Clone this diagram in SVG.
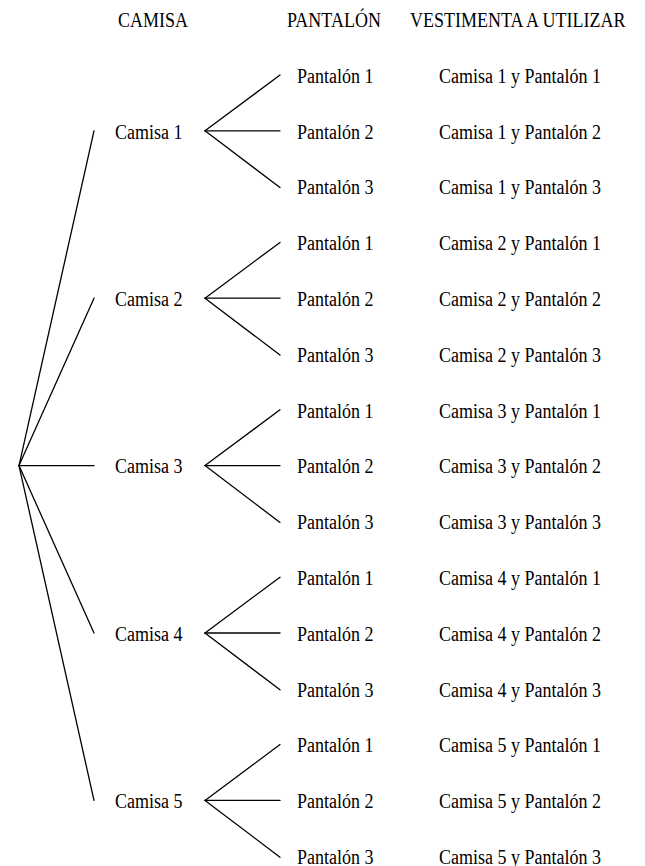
<svg xmlns="http://www.w3.org/2000/svg" width="645" height="866" viewBox="0 0 645 866">
<style>
text{font-family:"Liberation Serif","Times New Roman",serif;font-size:18px;fill:#000}
.c line{stroke:#000;stroke-width:1.3;stroke-linecap:round}
</style>
<rect width="645" height="866" fill="#fff"/>
<g id="headers">
<text transform="matrix(1 0 0 1.2 118 27)">CAMISA</text>
<text transform="matrix(1 0 0 1.2 287 27)">PANTALÓN</text>
<text transform="matrix(1 0 0 1.2 410 27)">VESTIMENTA A UTILIZAR</text>
</g>
<g id="connectors" class="c">
<line x1="19" y1="465.6" x2="94" y2="130.8"/>
<line x1="19" y1="465.6" x2="94" y2="298.2"/>
<line x1="19" y1="465.6" x2="94" y2="465.6"/>
<line x1="19" y1="465.6" x2="94" y2="633"/>
<line x1="19" y1="465.6" x2="94" y2="800.4"/>
<line x1="205" y1="130.8" x2="280" y2="75"/>
<line x1="205" y1="130.8" x2="280" y2="130.8"/>
<line x1="205" y1="130.8" x2="280" y2="187.6"/>
<line x1="205" y1="298.2" x2="280" y2="242.4"/>
<line x1="205" y1="298.2" x2="280" y2="298.2"/>
<line x1="205" y1="298.2" x2="280" y2="355"/>
<line x1="205" y1="465.6" x2="280" y2="409.8"/>
<line x1="205" y1="465.6" x2="280" y2="465.6"/>
<line x1="205" y1="465.6" x2="280" y2="522.4"/>
<line x1="205" y1="633" x2="280" y2="577.2"/>
<line x1="205" y1="633" x2="280" y2="633"/>
<line x1="205" y1="633" x2="280" y2="689.8"/>
<line x1="205" y1="800.4" x2="280" y2="744.6"/>
<line x1="205" y1="800.4" x2="280" y2="800.4"/>
<line x1="205" y1="800.4" x2="280" y2="857.2"/>
</g>
<g id="camisa1"><text transform="matrix(1 0 0 1.2 115 138.5)">Camisa 1</text></g>
<g id="camisa2"><text transform="matrix(1 0 0 1.2 115 305.9)">Camisa 2</text></g>
<g id="camisa3"><text transform="matrix(1 0 0 1.2 115 473.3)">Camisa 3</text></g>
<g id="camisa4"><text transform="matrix(1 0 0 1.2 115 640.7)">Camisa 4</text></g>
<g id="camisa5"><text transform="matrix(1 0 0 1.2 115 808.1)">Camisa 5</text></g>
<g id="c1p1"><text transform="matrix(1 0 0 1.2 297 82.7)">Pantalón 1</text><text transform="matrix(1 0 0 1.2 439 82.7)">Camisa 1 y Pantalón 1</text></g>
<g id="c1p2"><text transform="matrix(1 0 0 1.2 297 138.5)">Pantalón 2</text><text transform="matrix(1 0 0 1.2 439 138.5)">Camisa 1 y Pantalón 2</text></g>
<g id="c1p3"><text transform="matrix(1 0 0 1.2 297 194.3)">Pantalón 3</text><text transform="matrix(1 0 0 1.2 439 194.3)">Camisa 1 y Pantalón 3</text></g>
<g id="c2p1"><text transform="matrix(1 0 0 1.2 297 250.1)">Pantalón 1</text><text transform="matrix(1 0 0 1.2 439 250.1)">Camisa 2 y Pantalón 1</text></g>
<g id="c2p2"><text transform="matrix(1 0 0 1.2 297 305.9)">Pantalón 2</text><text transform="matrix(1 0 0 1.2 439 305.9)">Camisa 2 y Pantalón 2</text></g>
<g id="c2p3"><text transform="matrix(1 0 0 1.2 297 361.7)">Pantalón 3</text><text transform="matrix(1 0 0 1.2 439 361.7)">Camisa 2 y Pantalón 3</text></g>
<g id="c3p1"><text transform="matrix(1 0 0 1.2 297 417.5)">Pantalón 1</text><text transform="matrix(1 0 0 1.2 439 417.5)">Camisa 3 y Pantalón 1</text></g>
<g id="c3p2"><text transform="matrix(1 0 0 1.2 297 473.3)">Pantalón 2</text><text transform="matrix(1 0 0 1.2 439 473.3)">Camisa 3 y Pantalón 2</text></g>
<g id="c3p3"><text transform="matrix(1 0 0 1.2 297 529.1)">Pantalón 3</text><text transform="matrix(1 0 0 1.2 439 529.1)">Camisa 3 y Pantalón 3</text></g>
<g id="c4p1"><text transform="matrix(1 0 0 1.2 297 584.9)">Pantalón 1</text><text transform="matrix(1 0 0 1.2 439 584.9)">Camisa 4 y Pantalón 1</text></g>
<g id="c4p2"><text transform="matrix(1 0 0 1.2 297 640.7)">Pantalón 2</text><text transform="matrix(1 0 0 1.2 439 640.7)">Camisa 4 y Pantalón 2</text></g>
<g id="c4p3"><text transform="matrix(1 0 0 1.2 297 696.5)">Pantalón 3</text><text transform="matrix(1 0 0 1.2 439 696.5)">Camisa 4 y Pantalón 3</text></g>
<g id="c5p1"><text transform="matrix(1 0 0 1.2 297 752.3)">Pantalón 1</text><text transform="matrix(1 0 0 1.2 439 752.3)">Camisa 5 y Pantalón 1</text></g>
<g id="c5p2"><text transform="matrix(1 0 0 1.2 297 808.1)">Pantalón 2</text><text transform="matrix(1 0 0 1.2 439 808.1)">Camisa 5 y Pantalón 2</text></g>
<g id="c5p3"><text transform="matrix(1 0 0 1.2 297 863.9)">Pantalón 3</text><text transform="matrix(1 0 0 1.2 439 863.9)">Camisa 5 y Pantalón 3</text></g>
</svg>
